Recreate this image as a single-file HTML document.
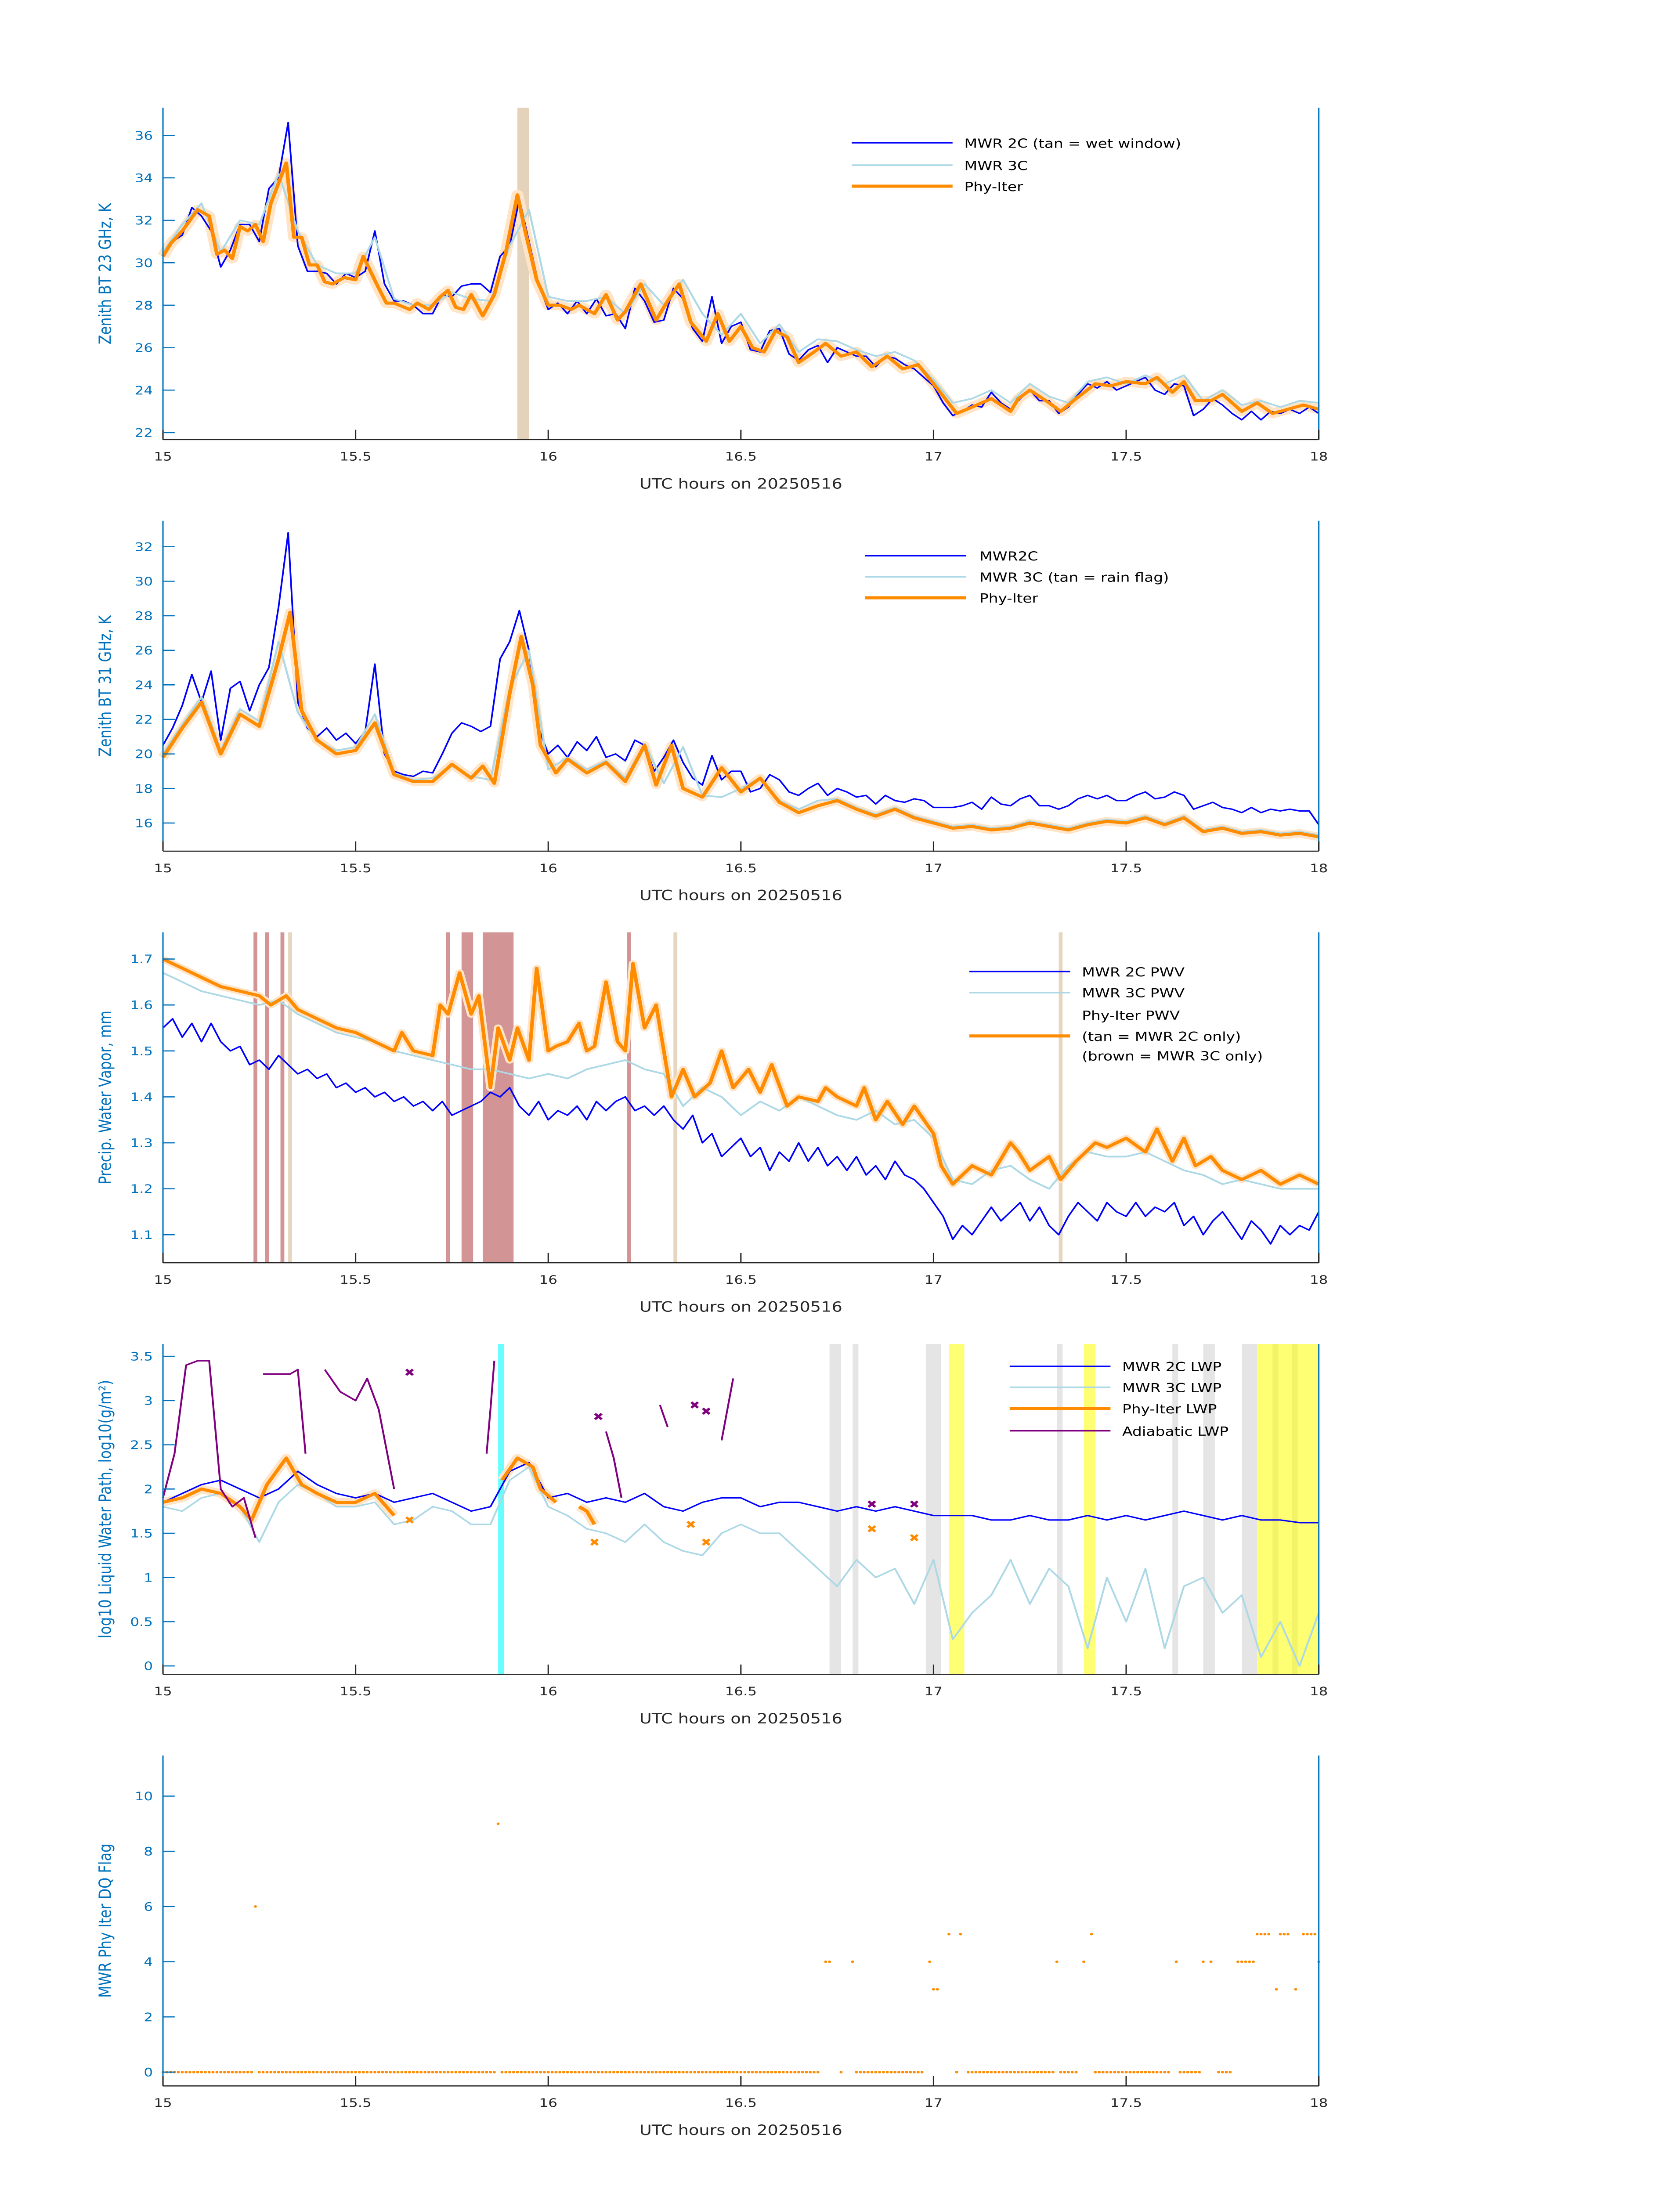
<!DOCTYPE html>
<html><head><meta charset="utf-8"><style>
html,body{margin:0;padding:0;background:#fff;width:100%;height:100%;overflow:hidden;}
svg{display:block;position:fixed;left:0;top:0;width:100vw;height:100vh;}
text{font-family:"DejaVu Sans","Liberation Sans",sans-serif;}
</style></head><body>
<svg id="fig" xmlns="http://www.w3.org/2000/svg" viewBox="0 0 1000 1568.63" preserveAspectRatio="none"></svg>
<script>
// ---------- DATA ----------
// Panel 1: 23 GHz BT
const bt23Blue=[30.5,31.0,31.3,32.6,32.2,31.5,29.8,30.6,31.8,31.8,31.0,33.5,34.0,36.6,30.8,29.6,29.6,29.5,29.0,29.5,29.3,29.6,31.5,29.0,28.2,28.2,28.0,27.6,27.6,28.5,28.4,28.9,29.0,29.0,28.6,30.3,30.8,33.0,31.0,29.0,27.8,28.1,27.6,28.2,27.6,28.3,27.5,27.6,26.9,28.8,28.2,27.2,27.3,28.8,28.3,26.9,26.3,28.4,26.2,27.0,27.2,25.9,25.8,26.8,26.9,25.7,25.4,25.9,26.1,25.3,26.0,25.8,25.6,25.6,25.1,25.6,25.5,25.2,25.0,24.6,24.2,23.4,22.8,23.0,23.3,23.2,23.9,23.4,23.1,23.6,24.0,23.5,23.5,22.9,23.2,23.8,24.3,24.1,24.4,24.0,24.2,24.4,24.6,24.0,23.8,24.3,24.2,22.8,23.1,23.6,23.3,22.9,22.6,23.0,22.6,23.0,22.9,23.1,22.9,23.2,22.9];
const bt23Light=[30.5,31.8,32.8,30.5,32.0,31.8,34.2,31.5,29.9,29.5,29.5,31.2,28.3,28.0,28.0,28.6,28.3,28.2,30.8,32.5,28.4,28.2,28.2,28.4,27.6,29.0,28.0,29.2,27.6,26.6,27.6,26.2,27.1,25.8,26.4,26.3,25.9,25.6,25.8,25.4,24.5,23.4,23.6,24.0,23.4,24.3,23.7,23.4,24.4,24.6,24.3,24.7,24.3,24.7,23.5,24.0,23.3,23.5,23.2,23.5,23.4];
const bt23OrangeT=[15.00,15.02,15.05,15.09,15.12,15.14,15.16,15.18,15.2,15.22,15.24,15.26,15.28,15.32,15.34,15.36,15.38,15.4,15.42,15.44,15.47,15.5,15.52,15.56,15.58,15.6,15.64,15.66,15.69,15.72,15.74,15.76,15.78,15.8,15.83,15.86,15.89,15.92,15.94,15.97,16.0,16.03,16.06,16.08,16.12,16.15,16.18,16.2,16.24,16.28,16.31,16.34,16.37,16.41,16.44,16.47,16.5,16.53,16.56,16.59,16.62,16.65,16.69,16.72,16.76,16.8,16.84,16.88,16.92,16.96,17.0,17.03,17.06,17.1,17.15,17.2,17.22,17.25,17.3,17.33,17.37,17.42,17.46,17.5,17.55,17.58,17.62,17.65,17.68,17.72,17.75,17.8,17.84,17.88,17.92,17.96,18.0];
const bt23OrangeV=[30.3,30.9,31.5,32.5,32.2,30.4,30.6,30.2,31.7,31.5,31.8,31.0,32.8,34.7,31.2,31.2,29.9,29.9,29.1,29.0,29.3,29.2,30.3,28.8,28.1,28.1,27.8,28.1,27.8,28.4,28.7,27.9,27.8,28.5,27.5,28.5,30.5,33.2,31.5,29.2,28.0,28.0,27.8,28.0,27.6,28.5,27.3,27.7,29.0,27.3,28.2,29.0,27.2,26.3,27.6,26.3,27.0,26.0,25.8,26.8,26.5,25.3,25.8,26.2,25.6,25.8,25.1,25.6,25.0,25.2,24.3,23.6,22.9,23.2,23.6,23.0,23.6,24.0,23.4,23.0,23.6,24.3,24.2,24.4,24.3,24.6,23.9,24.4,23.5,23.5,23.8,23.0,23.4,22.9,23.1,23.3,23.1];
const bt23Wet=[[15.92,15.95]];

// Panel 2: 31 GHz BT
const bt31Blue=[20.5,21.5,22.8,24.6,23.0,24.8,20.8,23.8,24.2,22.5,24.0,25.0,28.5,32.8,23.0,21.5,21.0,21.5,20.8,21.2,20.6,21.3,25.2,20.0,19.0,18.8,18.7,19.0,18.9,20.0,21.2,21.8,21.6,21.3,21.6,25.5,26.5,28.3,26.0,21.5,20.0,20.5,19.8,20.7,20.2,21.0,19.8,20.0,19.6,20.8,20.5,19.0,19.8,20.8,19.5,18.6,18.2,19.9,18.5,19.0,19.0,17.8,18.0,18.8,18.5,17.8,17.6,18.0,18.3,17.6,18.0,17.8,17.5,17.6,17.1,17.6,17.3,17.2,17.4,17.3,16.9,16.9,16.9,17.0,17.2,16.8,17.5,17.1,17.0,17.4,17.6,17.0,17.0,16.8,17.0,17.4,17.6,17.4,17.6,17.3,17.3,17.6,17.8,17.4,17.5,17.8,17.6,16.8,17.0,17.2,16.9,16.8,16.6,16.9,16.6,16.8,16.7,16.8,16.7,16.7,15.9];
const bt31Light=[20.0,21.7,23.3,20.2,22.6,21.9,26.5,22.4,20.8,20.2,20.4,22.3,18.9,18.5,18.6,19.3,18.7,18.5,23.8,26.0,19.1,19.8,19.1,19.6,18.6,20.6,18.3,20.4,17.6,17.5,18.0,18.6,17.3,16.8,17.3,17.4,16.9,16.5,16.9,16.4,16.1,15.8,15.9,15.7,15.8,16.1,15.9,15.7,16.0,16.2,16.1,16.4,16.0,16.4,15.6,15.8,15.5,15.6,15.4,15.5,15.3];
const bt31OrangeT=[15.00,15.05,15.1,15.15,15.2,15.25,15.3,15.33,15.36,15.4,15.45,15.5,15.55,15.6,15.65,15.7,15.75,15.8,15.83,15.86,15.9,15.93,15.96,15.98,16.02,16.05,16.1,16.15,16.2,16.25,16.28,16.32,16.35,16.4,16.45,16.5,16.55,16.6,16.65,16.7,16.75,16.8,16.85,16.9,16.95,17.0,17.05,17.1,17.15,17.2,17.25,17.3,17.35,17.4,17.45,17.5,17.55,17.6,17.65,17.7,17.75,17.8,17.85,17.9,17.95,18.0];
const bt31OrangeV=[19.8,21.5,23.0,20.0,22.3,21.6,25.5,28.2,22.5,20.8,20.0,20.2,21.8,18.8,18.4,18.4,19.4,18.6,19.3,18.3,23.5,26.8,24.0,20.5,18.9,19.7,18.9,19.5,18.4,20.5,18.2,20.5,18.0,17.5,19.2,17.8,18.6,17.2,16.6,17.0,17.3,16.8,16.4,16.8,16.3,16.0,15.7,15.8,15.6,15.7,16.0,15.8,15.6,15.9,16.1,16.0,16.3,15.9,16.3,15.5,15.7,15.4,15.5,15.3,15.4,15.2];

// Panel 3: PWV
const pwvBlue=[1.55,1.57,1.53,1.56,1.52,1.56,1.52,1.50,1.51,1.47,1.48,1.46,1.49,1.47,1.45,1.46,1.44,1.45,1.42,1.43,1.41,1.42,1.40,1.41,1.39,1.40,1.38,1.39,1.37,1.39,1.36,1.37,1.38,1.39,1.41,1.40,1.42,1.38,1.36,1.39,1.35,1.37,1.36,1.38,1.35,1.39,1.37,1.39,1.40,1.37,1.38,1.36,1.38,1.35,1.33,1.36,1.30,1.32,1.27,1.29,1.31,1.27,1.29,1.24,1.28,1.26,1.30,1.26,1.29,1.25,1.27,1.24,1.27,1.23,1.25,1.22,1.26,1.23,1.22,1.20,1.17,1.14,1.09,1.12,1.10,1.13,1.16,1.13,1.15,1.17,1.13,1.16,1.12,1.10,1.14,1.17,1.15,1.13,1.17,1.15,1.14,1.17,1.14,1.16,1.15,1.17,1.12,1.14,1.10,1.13,1.15,1.12,1.09,1.13,1.11,1.08,1.12,1.10,1.12,1.11,1.15];
const pwvLight=[1.67,1.65,1.63,1.62,1.61,1.60,1.61,1.58,1.56,1.54,1.53,1.52,1.50,1.49,1.48,1.47,1.46,1.46,1.45,1.44,1.45,1.44,1.46,1.47,1.48,1.46,1.45,1.38,1.42,1.40,1.36,1.39,1.37,1.40,1.38,1.36,1.35,1.37,1.34,1.35,1.31,1.22,1.21,1.24,1.25,1.22,1.20,1.25,1.28,1.27,1.27,1.28,1.26,1.24,1.23,1.21,1.22,1.21,1.20,1.20,1.20];
const pwvOrangeT=[15.0,15.05,15.1,15.15,15.2,15.25,15.28,15.32,15.35,15.4,15.45,15.5,15.55,15.6,15.62,15.65,15.7,15.72,15.74,15.77,15.8,15.82,15.85,15.87,15.9,15.92,15.95,15.97,16.0,16.02,16.05,16.08,16.1,16.12,16.15,16.18,16.2,16.22,16.25,16.28,16.32,16.35,16.38,16.42,16.45,16.48,16.52,16.55,16.58,16.62,16.65,16.7,16.72,16.75,16.8,16.82,16.85,16.88,16.92,16.95,17.0,17.02,17.05,17.1,17.15,17.2,17.22,17.25,17.3,17.33,17.37,17.42,17.45,17.5,17.55,17.58,17.62,17.65,17.68,17.72,17.75,17.8,17.85,17.9,17.95,18.0];
const pwvOrangeV=[1.70,1.68,1.66,1.64,1.63,1.62,1.60,1.62,1.59,1.57,1.55,1.54,1.52,1.50,1.54,1.50,1.49,1.60,1.58,1.67,1.58,1.62,1.42,1.55,1.48,1.55,1.48,1.68,1.50,1.51,1.52,1.56,1.50,1.51,1.65,1.52,1.50,1.69,1.55,1.60,1.40,1.46,1.40,1.43,1.50,1.42,1.46,1.41,1.47,1.38,1.40,1.39,1.42,1.40,1.38,1.42,1.35,1.39,1.34,1.38,1.32,1.25,1.21,1.25,1.23,1.30,1.28,1.24,1.27,1.22,1.26,1.30,1.29,1.31,1.28,1.33,1.26,1.31,1.25,1.27,1.24,1.22,1.24,1.21,1.23,1.21];
const pwvBrown=[[15.235,15.245],[15.265,15.275],[15.305,15.315],[15.735,15.745],[15.775,15.805],[15.83,15.91],[16.205,16.215]];
const pwvTan=[[15.325,15.335],[16.325,16.335],[17.325,17.335]];

// Panel 4: LWP
const lwpBlue=[1.85,1.95,2.05,2.1,2.0,1.9,2.0,2.2,2.05,1.95,1.9,1.95,1.85,1.9,1.95,1.85,1.75,1.8,2.2,2.3,1.9,1.95,1.85,1.9,1.85,1.95,1.8,1.75,1.85,1.9,1.9,1.8,1.85,1.85,1.8,1.75,1.8,1.75,1.8,1.75,1.7,1.7,1.7,1.65,1.65,1.7,1.65,1.65,1.7,1.65,1.7,1.65,1.7,1.75,1.7,1.65,1.7,1.65,1.65,1.62,1.62];
const lwpLight=[1.8,1.75,1.9,1.95,1.8,1.4,1.85,2.05,1.95,1.8,1.8,1.85,1.6,1.65,1.8,1.75,1.6,1.6,2.1,2.25,1.8,1.7,1.55,1.5,1.4,1.6,1.4,1.3,1.25,1.5,1.6,1.5,1.5,1.3,1.1,0.9,1.2,1.0,1.1,0.7,1.2,0.3,0.6,0.8,1.2,0.7,1.1,0.9,0.2,1.0,0.5,1.1,0.2,0.9,1.0,0.6,0.8,0.1,0.5,0.0,0.6];
const lwpOrangeT=[15.0,15.05,15.1,15.15,15.2,15.23,15.27,15.32,15.36,15.4,15.45,15.5,15.55,15.6,15.62,15.88,15.92,15.96,15.98,16.02,16.05,16.08,16.1,16.12];
const lwpOrangeV=[1.85,1.9,2.0,1.95,1.8,1.65,2.05,2.35,2.05,1.95,1.85,1.85,1.95,1.7,null,2.1,2.35,2.25,2.0,1.85,null,1.8,1.75,1.6];
const adiabT=[15.0,15.03,15.06,15.09,15.12,15.15,15.18,15.21,15.24,15.25,15.26,15.3,15.33,15.35,15.37,15.4,15.42,15.46,15.5,15.53,15.56,15.6,15.7,15.84,15.85,15.86,16.0,16.15,16.17,16.19,16.25,16.29,16.31,16.4,16.45,16.48];
const adiabV=[1.9,2.4,3.4,3.45,3.45,2.0,1.8,1.9,1.45,null,3.3,3.3,3.3,3.35,2.4,null,3.35,3.1,3.0,3.25,2.9,2.0,null,2.4,2.9,3.45,null,2.65,2.35,1.9,null,2.95,2.7,null,2.55,3.25];
const lwpXOrangeT=[15.64,16.12,16.37,16.41,16.84,16.95];
const lwpXOrangeV=[1.65,1.4,1.6,1.4,1.55,1.45];
const lwpXPurpleT=[15.64,16.13,16.38,16.41,16.84,16.95];
const lwpXPurpleV=[3.32,2.82,2.95,2.88,1.83,1.83];
const lwpGray=[[16.73,16.76],[16.79,16.805],[16.98,17.02],[17.32,17.335],[17.62,17.635],[17.7,17.73],[17.8,17.84],[17.88,17.895],[17.93,17.945]];
const lwpYellow=[[17.04,17.08],[17.39,17.42],[17.84,18.0]];
const lwpCyan=[[15.87,15.885]];

// Panel 5: DQ flag, run-length (value, count) on a 0.01 h grid from 15.00
const flagVals=[0,6,0,9,0,null,4,null,0,null,4,0,null,4,3,null,5,null,0,5,null,0,4,0,null,4,null,5,0,null,4,0,4,null,4,null,0,null,4,5,null,3,5,null,3,null,5,4];
const flagCounts=[24,1,62,1,83,1,2,2,1,2,1,18,1,1,2,2,1,1,1,1,1,23,1,5,1,1,1,1,20,1,1,6,1,1,1,1,4,1,5,4,1,1,3,1,1,1,4,1];

// ---------- DRAWING ----------
const NS='http://www.w3.org/2000/svg';
const svg=document.getElementById('fig');
const X0=97,X1=785;
function sx(h){return X0+(h-15)/3*(X1-X0);}
function mk(tag,attrs,parent){const e=document.createElementNS(NS,tag);for(const k in attrs)e.setAttribute(k,attrs[k]);(parent||svg).appendChild(e);return e;}
function pathD(ts,vs,sy){let d='',pen=false;for(let i=0;i<ts.length;i++){const v=vs[i];if(v===null||v===undefined){pen=false;continue;}d+=(pen?'L':'M')+sx(ts[i]).toFixed(2)+','+sy(v).toFixed(2);pen=true;}return d;}
function grid(n){const t=[];for(let i=0;i<n;i++)t.push(15+3*i/(n-1));return t;}

const panels=[
 {top:77,bot:314,ymin:21.67,ymax:37.3,ticks:[22,24,26,28,30,32,34,36],label:'Zenith BT 23 GHz, K',name:'bt23-panel'},
 {top:372,bot:608,ymin:14.37,ymax:33.5,ticks:[16,18,20,22,24,26,28,30,32],label:'Zenith BT 31 GHz, K',name:'bt31-panel'},
 {top:666,bot:902,ymin:1.039,ymax:1.758,ticks:[1.1,1.2,1.3,1.4,1.5,1.6,1.7],label:'Precip. Water Vapor, mm',name:'pwv-panel'},
 {top:960,bot:1196,ymin:-0.095,ymax:3.64,ticks:[0,0.5,1,1.5,2,2.5,3,3.5],label:'log10 Liquid Water Path, log10(g/m\u00B2)',name:'lwp-panel'},
 {top:1254,bot:1490,ymin:-0.5,ymax:11.47,ticks:[0,2,4,6,8,10],label:'MWR Phy Iter DQ Flag',name:'dq-flag-panel'}
];
panels.forEach(p=>{p.sy=v=>p.bot-(v-p.ymin)/(p.ymax-p.ymin)*(p.bot-p.top);});

function bands(p,list,color,op,name){
 list.forEach(b=>{const r=mk('rect',{x:sx(b[0]),y:p.top,width:Math.max(sx(b[1])-sx(b[0]),1.2),height:p.bot-p.top,fill:color,'fill-opacity':op});
 
 });
}
function line(p,ts,vs,color,w,name,op){const e=mk('path',{d:pathD(ts,vs,p.sy),fill:'none',stroke:color,'stroke-width':w,'stroke-linejoin':'round','stroke-opacity':op||1});
 
 return e;}
function axes(p){
 const g=mk('g',{});
 
 
 const xa=mk('line',{x1:X0,y1:p.bot,x2:X1,y2:p.bot,stroke:'#262626','stroke-width':0.8},g);
 
 
 const ya=mk('line',{x1:X0,y1:p.top,x2:X0,y2:p.bot,stroke:'#0072BD','stroke-width':0.8},g);
 
 
 const yr=mk('line',{x1:X1,y1:p.top,x2:X1,y2:p.bot,stroke:'#0072BD','stroke-width':0.8},g);
 
 
 [15,15.5,16,16.5,17,17.5,18].forEach(h=>{
  const t=mk('line',{x1:sx(h),y1:p.bot,x2:sx(h),y2:p.bot-7,stroke:'#262626','stroke-width':0.8},g);
  
  
  const l=mk('text',{x:sx(h),y:p.bot+15,'font-size':8.5,'text-anchor':'middle',fill:'#262626'},g);
  l.textContent=String(h);
  
  
 });
 p.ticks.forEach(v=>{
  const t=mk('line',{x1:X0,y1:p.sy(v),x2:X0+7,y2:p.sy(v),stroke:'#0072BD','stroke-width':0.8},g);
  
  
  const l=mk('text',{x:X0-6,y:p.sy(v)+3,'font-size':8.5,'text-anchor':'end',fill:'#0072BD'},g);
  l.textContent=String(v);
  
  
 });
 const xl=mk('text',{x:(X0+X1)/2,y:p.bot+35,'font-size':10,'text-anchor':'middle',fill:'#262626'},g);
 xl.textContent='UTC hours on 20250516';
 
 
 const cy=(p.top+p.bot)/2;
 const yl=mk('text',{x:66,y:cy,'font-size':10,'text-anchor':'middle',fill:'#0072BD',transform:'rotate(-90 66 '+cy+')'},g);
 yl.textContent=p.label;
 
 
}
function legend(x0,x1,tx,items){
 items.forEach(it=>{
  if(it.color){const l=mk('line',{x1:x0,y1:it.y,x2:x1,y2:it.y,stroke:it.color,'stroke-width':it.w});
  
  }
  const t=mk('text',{x:tx,y:it.ty||it.y+3.5,'font-size':9,fill:'#000'});
  t.textContent=it.text;
  
  
 });
}
function xmark(p,ts,vs,color,name){
 ts.forEach((t,i)=>{const x=sx(t),y=p.sy(vs[i]);
  const e=mk('path',{d:`M${x-2},${y-2}L${x+2},${y+2}M${x-2},${y+2}L${x+2},${y-2}`,stroke:color,'stroke-width':1.6});
  
  });
}
const BLUE='#0000ff',LB='#add8e6',OR='#ff8c00',BAND='#ffe4c8';

// Panel 1
let p=panels[0];
bands(p,bt23Wet,'#d2b48c',0.6,'wet-window-band');
line(p,bt23OrangeT,bt23OrangeV,BAND,7,'phyiter-uncertainty-band');
line(p,grid(bt23Blue.length),bt23Blue,BLUE,1,'mwr2c-line');
line(p,grid(bt23Light.length),bt23Light,LB,1.2,'mwr3c-line');
line(p,bt23OrangeT,bt23OrangeV,OR,2.2,'phyiter-line');
axes(p);
legend(507,567,574,[{y:102,color:BLUE,w:1,text:'MWR 2C (tan = wet window)'},{y:118,color:LB,w:1.2,text:'MWR 3C'},{y:133,color:OR,w:2.2,text:'Phy-Iter'}]);

// Panel 2
p=panels[1];
line(p,bt31OrangeT,bt31OrangeV,BAND,6,'phyiter-uncertainty-band');
line(p,grid(bt31Blue.length),bt31Blue,BLUE,1,'mwr2c-line');
line(p,grid(bt31Light.length),bt31Light,LB,1.2,'mwr3c-line');
line(p,bt31OrangeT,bt31OrangeV,OR,2.2,'phyiter-line');
axes(p);
legend(515,575,583,[{y:397,color:BLUE,w:1,text:'MWR2C'},{y:412,color:LB,w:1.2,text:'MWR 3C (tan = rain flag)'},{y:427,color:OR,w:2.2,text:'Phy-Iter'}]);

// Panel 3
p=panels[2];
bands(p,pwvBrown,'#a52a2a',0.5,'mwr3c-only-band');
bands(p,pwvTan,'#d2b48c',0.55,'mwr2c-only-band');
line(p,pwvOrangeT,pwvOrangeV,BAND,5,'phyiter-uncertainty-band');
line(p,grid(pwvBlue.length),pwvBlue,BLUE,1,'mwr2c-pwv-line');
line(p,grid(pwvLight.length),pwvLight,LB,1.2,'mwr3c-pwv-line');
line(p,pwvOrangeT,pwvOrangeV,OR,2.2,'phyiter-pwv-line');
axes(p);
legend(577,637,644,[{y:694,color:BLUE,w:1,text:'MWR 2C PWV'},{y:709,color:LB,w:1.2,text:'MWR 3C PWV'},{y:725,text:'Phy-Iter PWV'},{y:740,color:OR,w:2.2,text:'(tan = MWR 2C only)'},{y:754,text:'(brown = MWR 3C only)'}]);

// Panel 4
p=panels[3];
bands(p,lwpGray,'#d3d3d3',0.6,'gray-flag-band');
bands(p,lwpYellow,'#ffff00',0.55,'yellow-flag-band');
bands(p,lwpCyan,'#00ffff',0.6,'cyan-flag-band');
line(p,lwpOrangeT,lwpOrangeV,BAND,6,'phyiter-uncertainty-band');
line(p,grid(lwpBlue.length),lwpBlue,BLUE,1,'mwr2c-lwp-line');
line(p,grid(lwpLight.length),lwpLight,LB,1.1,'mwr3c-lwp-line');
line(p,lwpOrangeT,lwpOrangeV,OR,2.2,'phyiter-lwp-line');
line(p,adiabT,adiabV,'#800080',1.1,'adiabatic-lwp-line');
xmark(p,lwpXOrangeT,lwpXOrangeV,OR,'phyiter-lwp-marker');
xmark(p,lwpXPurpleT,lwpXPurpleV,'#800080','adiabatic-lwp-marker');
axes(p);
legend(601,661,668,[{y:976,color:BLUE,w:1,text:'MWR 2C LWP'},{y:991,color:LB,w:1.2,text:'MWR 3C LWP'},{y:1006,color:OR,w:2.2,text:'Phy-Iter LWP'},{y:1022,color:'#800080',w:1.1,text:'Adiabatic LWP'}]);

// Panel 5
p=panels[4];
let idx=0;
flagVals.forEach((v,k)=>{
 for(let j=0;j<flagCounts[k];j++){
  const t=15+0.01*idx; idx++;
  if(v===null)continue;
  const c=mk('circle',{cx:sx(t),cy:p.sy(v),r:0.9,fill:OR});
  
  
 }
});
axes(p);
</script>
</body></html>
